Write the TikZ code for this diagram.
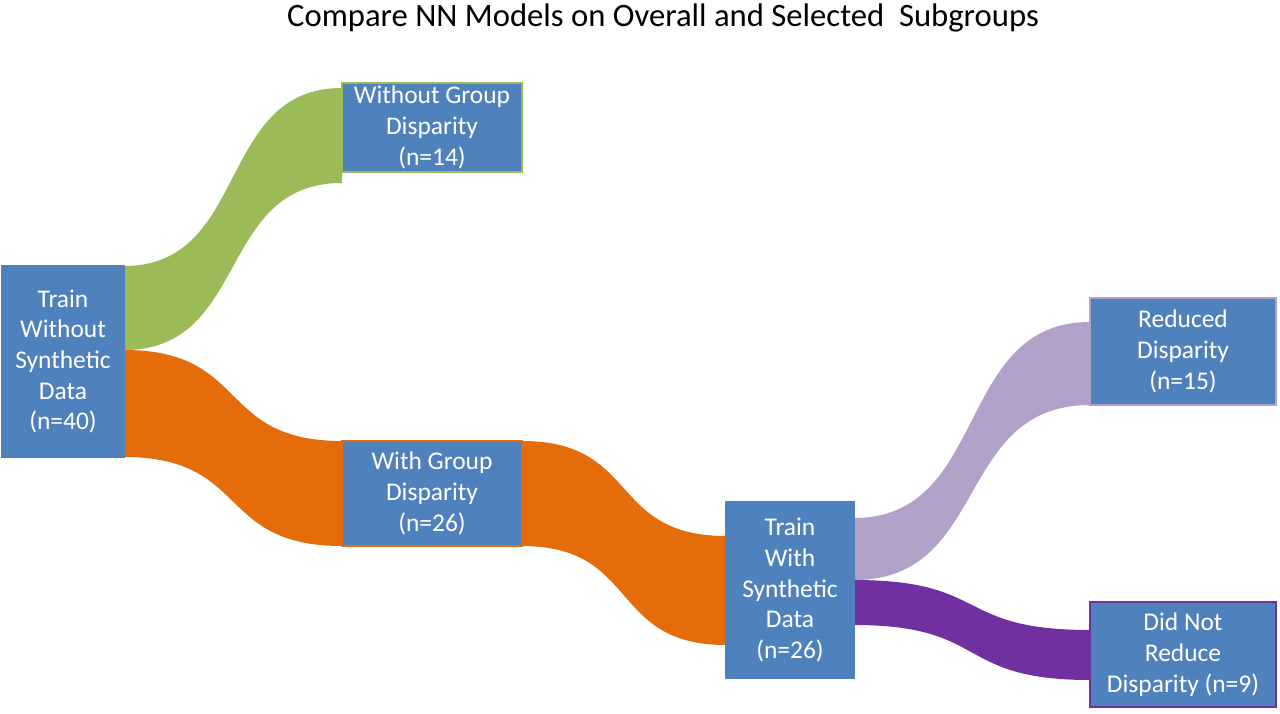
\documentclass[tikz,border=0pt]{standalone}
\usepackage{fontspec}
\setmainfont{Carlito}
\usetikzlibrary{positioning}
\definecolor{boxblue}{HTML}{4F81BD}
\definecolor{flowgreen}{HTML}{9BBB59}
\definecolor{floworange}{HTML}{E46C0A}
\definecolor{flowlilac}{HTML}{B1A0C7}
\definecolor{flowpurple}{HTML}{7030A0}
\tikzset{
  stagebox/.style={rectangle,fill=boxblue,draw=#1,line width=1.2pt,text=white,align=center,
    font=\fontsize{14.5}{17.5}\selectfont,inner sep=0pt},
}
\begin{document}
\begin{tikzpicture}[x=0.02cm,y=-0.02cm]
\useasboundingbox (0,0) rectangle (1280,713);
\node (title) at (663,18) {\fontsize{18.6}{22}\selectfont Compare NN Models on Overall and Selected\ \ Subgroups};
% flows
\fill[flowgreen] (124,266) .. controls (250,266) and (216,88) .. (342,88) -- (342,183)
  .. controls (216,183) and (250,350) .. (124,350) -- cycle;
\fill[floworange] (124,350) .. controls (250,350) and (216,441) .. (342,441) -- (342,546)
  .. controls (216,546) and (250,457) .. (124,457) -- cycle;
\fill[floworange] (522,441) .. controls (640,441) and (608,536) .. (726,536) -- (726,645)
  .. controls (608,645) and (640,546) .. (522,546) -- cycle;
\fill[flowlilac] (854,518) .. controls (990,518) and (954,322) .. (1090,322) -- (1090,405)
  .. controls (954,405) and (990,580) .. (854,580) -- cycle;
\fill[flowpurple] (854,580) .. controls (990,580) and (954,630) .. (1090,630) -- (1090,680)
  .. controls (954,680) and (990,625) .. (854,625) -- cycle;
% boxes
\node[stagebox=boxblue,minimum width=2.44cm,minimum height=3.82cm] (trainA) at (63,361.5) {Train\\Without\\Synthetic\\Data\\(n=40)};
\node[stagebox=flowgreen,minimum width=3.6cm,minimum height=1.78cm] (without) at (432,127.5) {Without Group\\Disparity\\(n=14)};
\node[stagebox=floworange,minimum width=3.6cm,minimum height=2.1cm] (with) at (432,493.5) {With Group\\Disparity\\(n=26)};
\node[stagebox=boxblue,minimum width=2.56cm,minimum height=3.52cm] (trainB) at (790,590) {Train\\With\\Synthetic\\Data\\(n=26)};
\node[stagebox=flowlilac,minimum width=3.72cm,minimum height=2.14cm] (reduced) at (1183,351.5) {Reduced\\Disparity\\(n=15)};
\node[stagebox=flowpurple,minimum width=3.72cm,minimum height=2.1cm] (notred) at (1183,654.5) {Did Not\\Reduce\\Disparity (n=9)};
\end{tikzpicture}
\end{document}
